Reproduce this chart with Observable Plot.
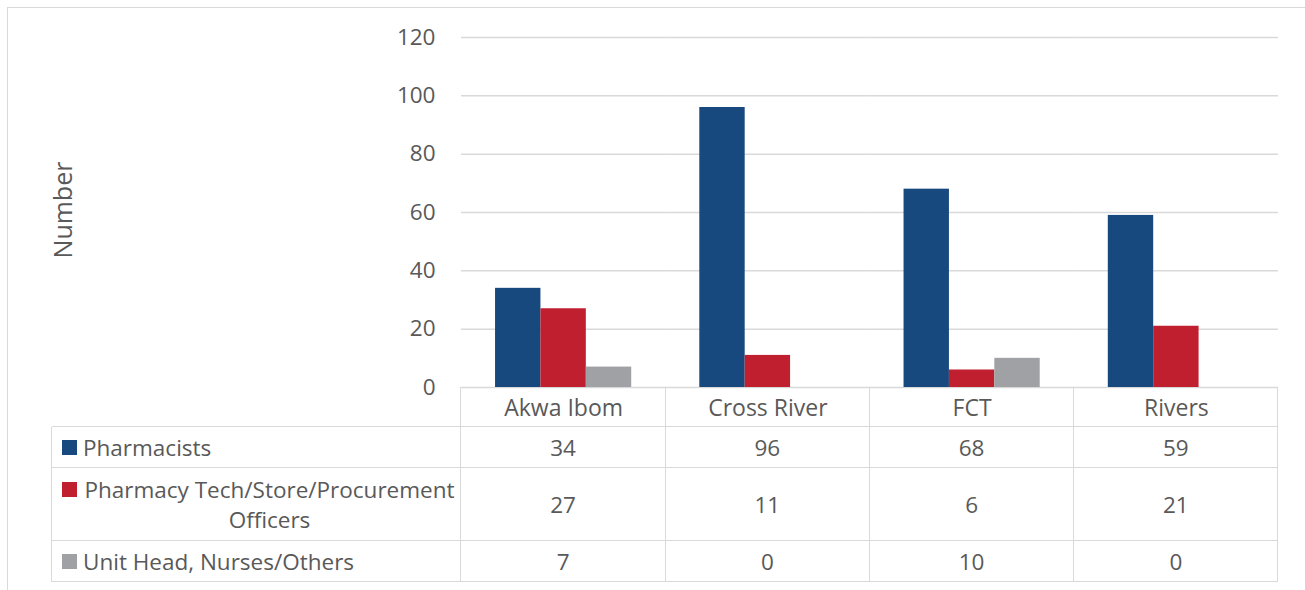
<!DOCTYPE html>
<html>
<head>
<meta charset="utf-8">
<script src="https://cdn.jsdelivr.net/npm/d3@7"></script>
<script src="https://cdn.jsdelivr.net/npm/@observablehq/plot@0.6"></script>
<style>
  html, body { margin: 0; padding: 0; background: #fff; overflow: hidden; }
  #wrap { position: relative; width: 1305px; height: 590px; overflow: hidden; font-family: "Open Sans", sans-serif; color: #595959; }
  #frame { position: absolute; left: 7px; top: 7px; width: 1400px; height: 700px; border: 1.5px solid #d9d9d9; box-sizing: border-box; }
  #chart { position: absolute; left: 0; top: 0; }
  .hl { position: absolute; height: 0; border-top: 1.5px solid #d9d9d9; }
  .vl { position: absolute; width: 0; border-left: 1.5px solid #d9d9d9; }
  .cell { position: absolute; display: flex; align-items: center; justify-content: center; font-size: 22.5px; line-height: 30px; }
  .lab { position: absolute; display: flex; align-items: center; font-size: 22.5px; line-height: 30px; }
  .sw { position: absolute; width: 15px; height: 15px; }
  #ylab { position: absolute; left: 62px; top: 210px; transform: translate(-50%, -50%) rotate(-90deg); font-size: 25px; white-space: nowrap; }
</style>
</head>
<body>
<div id="wrap">
  <div id="frame"></div>
  <div id="chart"></div>
  <div id="ylab">Number</div>
</div>
<script>
const states = ["Akwa Ibom", "Cross River", "FCT", "Rivers"];
const seriesNames = ["Pharmacists", "Pharmacy Tech/Store/Procurement Officers", "Unit Head, Nurses/Others"];
const pharmacists = [34, 96, 68, 59];
const techOfficers = [27, 11, 6, 21];
const othersStaff = [7, 0, 10, 0];
const seriesColors = ["#17487E", "#C01F2F", "#A0A1A5"];
const yTicks = [0, 20, 40, 60, 80, 100, 120];

const seriesValues = [pharmacists, techOfficers, othersStaff];
const data = [];
seriesValues.forEach((vals, si) => vals.forEach((v, i) => data.push({state: states[i], series: seriesNames[si], value: v})));

const W = 1305, H = 590, ML = 461, MR = 27, MT = 37, MB = 203;

const chart = Plot.plot({
  width: W, height: H,
  marginLeft: ML, marginRight: MR, marginTop: MT, marginBottom: MB,
  style: {fontFamily: "Open Sans, sans-serif", fontSize: "22.5px", color: "#595959", background: "transparent", overflow: "visible"},
  fx: {domain: states, padding: 0, label: null, round: false},
  x: {domain: seriesNames, paddingInner: 0, paddingOuter: 0.75, round: false, axis: null},
  y: {domain: [0, 120], ticks: yTicks, label: null},
  color: {domain: seriesNames, range: seriesColors},
  marks: [
    Plot.gridY(yTicks, {stroke: "#d9d9d9", strokeOpacity: 1, strokeWidth: 1.5}),
    Plot.axisY(yTicks, {tickSize: 0, tickPadding: 26, label: null, fontSize: 22.5, fill: "#595959"}),
    Plot.barY(data, {fx: "state", x: "series", y: "value", fill: "series", insetLeft: 0, insetRight: 0}),
    Plot.axisFx({anchor: "bottom", tickSize: 0, tickPadding: 12, label: null, fontSize: 23, fill: "#595959"})
  ]
});
document.getElementById("chart").appendChild(chart);

// Data table below the chart
const wrap = document.getElementById("wrap");
const fx = chart.scale("fx");
const step = (W - ML - MR) / states.length;
const colLeft = states.map((s, i) => (fx && fx.apply ? fx.apply(s) : ML + i * step));
const colW = fx && fx.bandwidth ? fx.bandwidth : step;
const tableLeft = 52, tableRight = colLeft[colLeft.length - 1] + colW;
const rowTops = [427, 468, 541];
const rowBottoms = [468, 541, 582];
const axisY = H - MB;

function add(cls, style, text) {
  const d = document.createElement("div");
  d.className = cls;
  Object.assign(d.style, style);
  if (text != null) d.textContent = text;
  wrap.appendChild(d);
  return d;
}
// horizontal lines
[427, 468, 541, 582].forEach(y => add("hl", {left: tableLeft + "px", top: (y - 0.75) + "px", width: (tableRight - tableLeft) + "px"}));
// vertical lines
add("vl", {left: (tableLeft - 0.75) + "px", top: "427px", height: (582 - 427) + "px"});
colLeft.forEach(x => add("vl", {left: (x - 0.75) + "px", top: axisY + "px", height: (582 - axisY) + "px"}));
add("vl", {left: (tableRight - 0.75) + "px", top: axisY + "px", height: (582 - axisY) + "px"});

seriesNames.forEach((name, si) => {
  const top = rowTops[si], h = rowBottoms[si] - rowTops[si];
  const wrapped = name.length > 30;
  const swMid = wrapped ? top + (h - 60) / 2 + 15 : top + h / 2;
  add("sw", {left: "62px", top: (swMid - 7.5) + "px", background: seriesColors[si]});
  add("lab", {left: "83px", top: top + "px", width: "373px", height: h + "px",
    justifyContent: wrapped ? "center" : "flex-start", textAlign: wrapped ? "center" : "left"}, name);
  seriesValues[si].forEach((v, i) => {
    add("cell", {left: colLeft[i] + "px", top: top + "px", width: colW + "px", height: h + "px"}, String(v));
  });
});
</script>
</body>
</html>
